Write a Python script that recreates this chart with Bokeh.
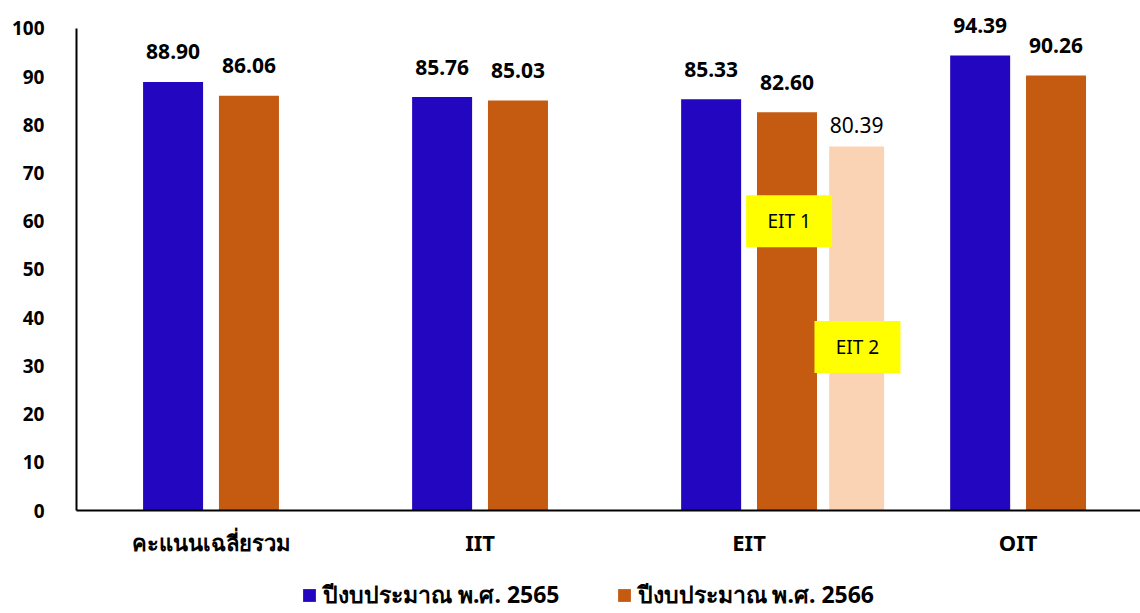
from bokeh.plotting import figure
from bokeh.layouts import column
from bokeh.models import Range1d, FixedTicker, Legend, LegendItem, ColumnDataSource
from bokeh.core.properties import value
from bokeh.embed import file_html
from bokeh.resources import INLINE

# ---- data ----
categories = ["คะแนนเฉลี่ยรวม", "IIT", "EIT", "OIT"]
series_names = ["ปีงบประมาณ พ.ศ. 2565", "ปีงบประมาณ พ.ศ. 2566"]
score_2565 = [88.90, 85.76, 85.33, 94.39]
score_2566 = [86.06, 85.03, 82.60, 90.26]
eit2_category = ["EIT"]
eit2_bar = [75.5]
eit2_label = ["80.39"]
callout_text = ["EIT 1", "EIT 2"]
callout_value = [60.0, 33.9]
y_ticks = [0, 10, 20, 30, 40, 50, 60, 70, 80, 90, 100]

FONT = "Noto Sans"
BLUE = "#2306BF"
ORANGE = "#C55A11"
PEACH = "#F9D3B3"
YELLOW = "#FFFF00"

centers = [i + 0.5 for i in range(len(categories))]
OFF = 0.141
BW = 0.223
eit_idx = categories.index(eit2_category[0])

p = figure(width=1140, height=560,
           x_range=Range1d(0, 3.955), y_range=Range1d(0, 105.8),
           output_backend="svg", toolbar_location=None,
           min_border_left=76, min_border_right=0, min_border_top=0,
           min_border_bottom=50)
p.outline_line_color = None
p.grid.visible = False

src = ColumnDataSource(dict(
    x1=[c - OFF for c in centers], y1=score_2565, t1=[f"{v:.2f}" for v in score_2565],
    x2=[c + OFF for c in centers], y2=score_2566, t2=[f"{v:.2f}" for v in score_2566],
))
r1 = p.vbar(x="x1", top="y1", width=BW, source=src, fill_color=BLUE, line_color=None)
r2 = p.vbar(x="x2", top="y2", width=BW, source=src, fill_color=ORANGE, line_color=None)

src3 = ColumnDataSource(dict(x=[centers[eit_idx] + 0.40], y=eit2_bar, t=eit2_label))
p.vbar(x="x", top="y", width=0.204, source=src3, fill_color=PEACH, line_color=None)

for xs, ys, ts in (("x1", "y1", "t1"), ("x2", "y2", "t2")):
    p.text(x=xs, y=ys, text=ts, source=src, text_align="center",
           text_baseline="alphabetic", y_offset=-30,
           text_font=value(FONT), text_font_size="21px", text_font_style="bold",
           text_color="black")
p.text(x="x", y="y", text="t", source=src3, text_align="center",
       text_baseline="alphabetic", y_offset=-22,
       text_font=value(FONT), text_font_size="21px", text_color="black")

# callouts
src4 = ColumnDataSource(dict(
    x=[centers[eit_idx] + 0.149, centers[eit_idx] + 0.403],
    y=callout_value, t=callout_text))
p.rect(x="x", y="y", width=86, height=52, width_units="screen", height_units="screen",
       source=src4, fill_color=YELLOW, line_color=None)
p.text(x="x", y="y", text="t", source=src4, text_align="center", text_baseline="middle",
       text_font=value(FONT), text_font_size="19px", text_color="black")

# axes
p.yaxis.ticker = FixedTicker(ticks=y_ticks)
p.yaxis.bounds = (0, 100)
p.yaxis.major_tick_line_color = None
p.yaxis.minor_tick_line_color = None
p.yaxis.major_label_standoff = 26
p.yaxis.major_label_text_font = FONT
p.yaxis.major_label_text_font_size = "19px"
p.yaxis.major_label_text_font_style = "bold"
p.yaxis.major_label_text_color = "black"
p.yaxis.axis_line_width = 2
p.yaxis.axis_line_color = "black"

p.xaxis.ticker = FixedTicker(ticks=centers)
p.xaxis.major_label_overrides = {c: n for c, n in zip(centers, categories)}
p.xaxis.major_tick_line_color = None
p.xaxis.minor_tick_line_color = None
p.xaxis.major_label_standoff = 10
p.xaxis.major_label_text_font = FONT
p.xaxis.major_label_text_font_size = "22px"
p.xaxis.major_label_text_font_style = "bold"
p.xaxis.major_label_text_color = "black"
p.xaxis.axis_line_width = 2
p.xaxis.axis_line_color = "black"

# legend strip below the chart (its frame aligns with the chart frame at x=76)
pl = figure(width=1140, height=53, x_range=Range1d(0, 3.955), y_range=Range1d(-2, -1),
            output_backend="svg", toolbar_location=None,
            x_axis_type=None, y_axis_type=None,
            min_border_left=76, min_border_right=0, min_border_top=0, min_border_bottom=0)
pl.outline_line_color = None
pl.grid.visible = False
l1 = pl.vbar(x="x1", top="y1", width=0, source=src, fill_color=BLUE, line_color=None)
l2 = pl.vbar(x="x2", top="y2", width=0, source=src, fill_color=ORANGE, line_color=None)
legend = Legend(items=[LegendItem(label=series_names[0], renderers=[l1], index=0),
                       LegendItem(label=series_names[1], renderers=[l2], index=0)],
                orientation="horizontal", location=(225, 0),
                glyph_width=16, glyph_height=16, label_height=16,
                label_standoff=6, spacing=56, padding=0, margin=0,
                border_line_color=None, background_fill_alpha=0,
                label_text_font=FONT, label_text_font_size="23px",
                label_text_font_style="bold", label_text_color="black")
pl.add_layout(legend, "center")

layout = column(p, pl, spacing=0)
open("out.html", "w").write(file_html(layout, INLINE))
